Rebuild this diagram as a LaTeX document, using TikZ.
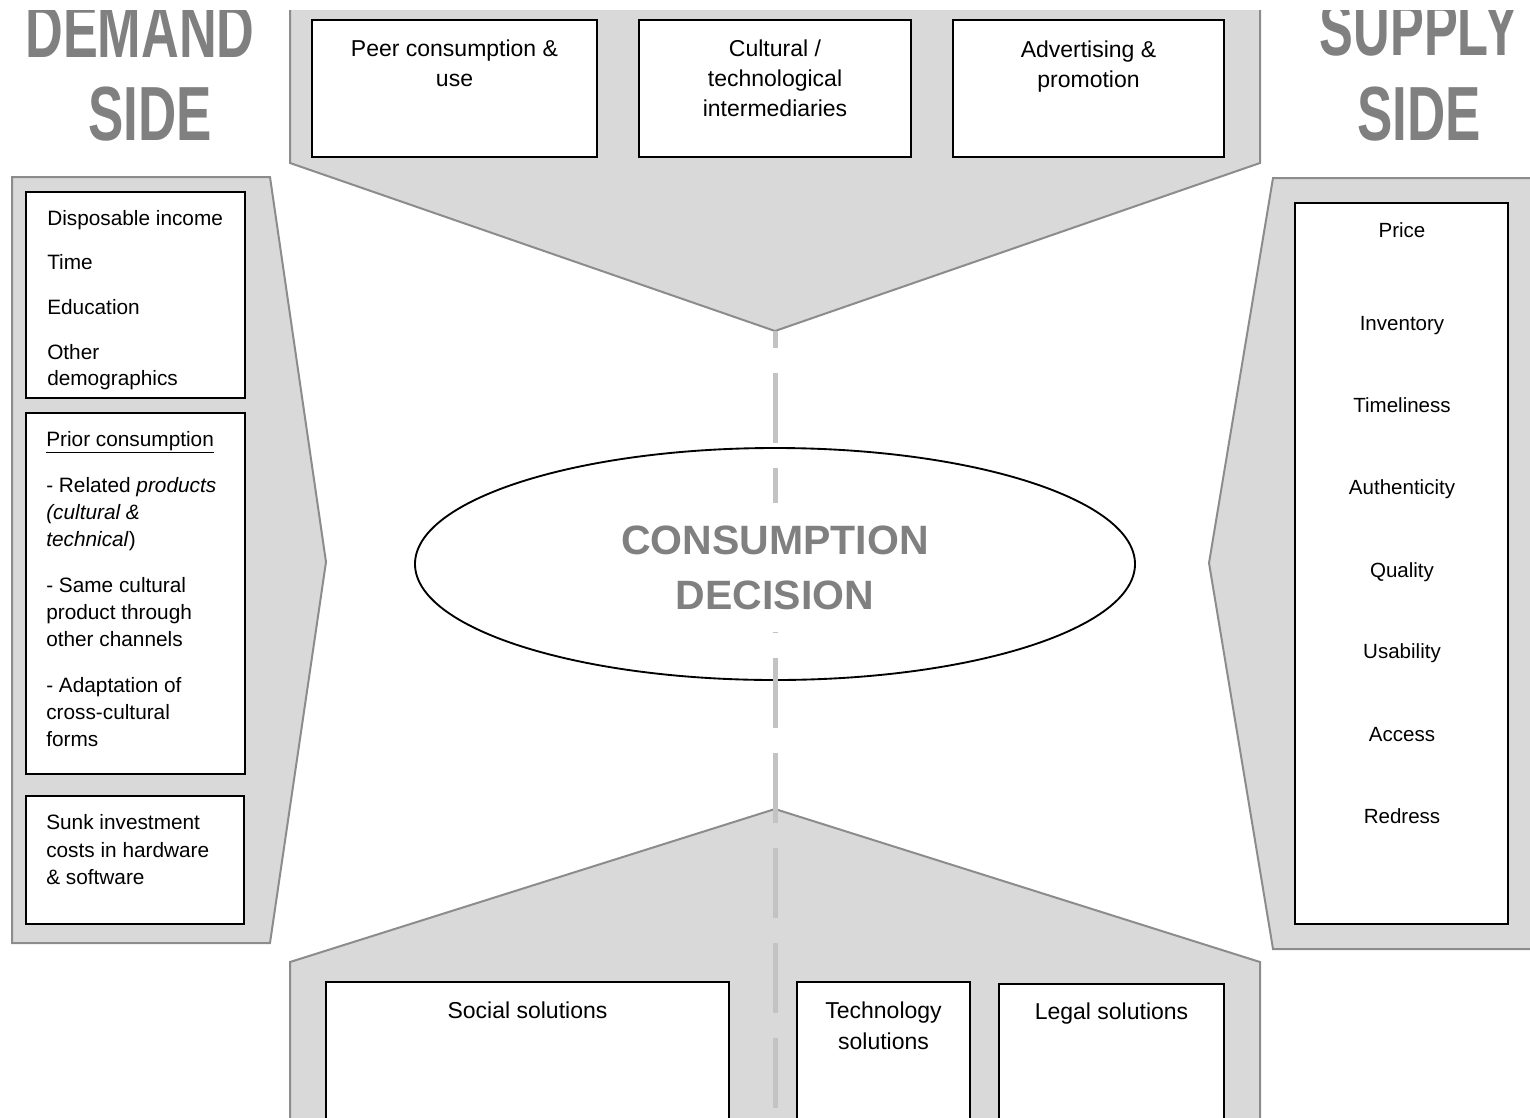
\documentclass[tikz,border=0pt]{standalone}
\usepackage{fontspec}
\setmainfont{Liberation Sans}
\usetikzlibrary{shapes.geometric}
\definecolor{panel}{HTML}{D9D9D9}
\definecolor{panelline}{HTML}{8C8C8C}
\definecolor{titlegray}{HTML}{808080}
\definecolor{dashgray}{HTML}{C3C3C3}
\begin{document}
\begin{tikzpicture}[x=0.75pt,y=-0.75pt,
  panelshape/.style={fill=panel,draw=panelline,line width=1.5pt,line join=miter},
  whitebox/.style={draw=black,fill=white,line width=1.4pt,inner sep=0pt,rectangle},
  toptext/.style={anchor=base,inner sep=0pt,font=\fontsize{17.25}{20}\selectfont},
  lefttext/.style={anchor=base west,inner sep=0pt,font=\fontsize{15.6}{19}\selectfont},
  righttext/.style={anchor=base,inner sep=0pt,font=\fontsize{15.4}{18}\selectfont},
  sidetitle/.style={anchor=base,inner sep=0pt,text=titlegray,font=\fontsize{57.6}{60}\selectfont\bfseries},
  centretext/.style={align=center,text=titlegray,fill=white,inner xsep=4pt,inner ysep=17pt,font=\fontsize{30.75}{41.25}\selectfont\bfseries},
  midline/.style={draw=dashgray,line width=3.75pt,dash pattern=on 52.5pt off 18.75pt,dash phase=39.75pt}]
\useasboundingbox (0,0) rectangle (1530,1117);
\begin{scope}
\clip (0,10) rectangle (1530,1117);
% panels
\filldraw[panelshape] (290,0) -- (1260,0) -- (1260,163) -- (775,331) -- (290,163) -- cycle;
\filldraw[panelshape] (12,177) -- (270,177) -- (326,562) -- (270,943) -- (12,943) -- cycle;
\filldraw[panelshape] (1273,178) -- (1545,178) -- (1545,949) -- (1273,949) -- (1209,563) -- cycle;
\filldraw[panelshape] (290,1135) -- (290,962) -- (775,809) -- (1260,962) -- (1260,1135) -- cycle;
\coordinate (topapex) at (775,331);
\coordinate (botend) at (775,1125);
% titles
\node[sidetitle] (demand) at (140,57) {\scalebox{0.68}[1]{DEMAND}};
\node[sidetitle] (dside) at (150,140) {\scalebox{0.69}[1]{SIDE}};
\node[sidetitle] (supply) at (1419,55) {\scalebox{0.66}[1]{SUPPLY}};
\node[sidetitle] (sside) at (1419,140) {\scalebox{0.69}[1]{SIDE}};
% top boxes
\node[whitebox,minimum width=213.75pt,minimum height=102.75pt] (peer) at (454.5,88.5) {};
\node[whitebox,minimum width=204pt,minimum height=102.75pt] (cult) at (775,88.5) {};
\node[whitebox,minimum width=203.25pt,minimum height=102.75pt] (adv) at (1088.5,88.5) {};
\node[toptext] (peer1) at (454.5,56) {Peer consumption \&};
\node[toptext] (peer2) at (454.5,86) {use};
\node[toptext] (cult1) at (775,56) {Cultural /};
\node[toptext] (cult2) at (775,86) {technological};
\node[toptext] (cult3) at (775,116) {intermediaries};
\node[toptext] (adv1) at (1088.5,57) {Advertising \&};
\node[toptext] (adv2) at (1088.5,87) {promotion};
% left boxes
\node[whitebox,minimum width=164.25pt,minimum height=154.5pt] (boxa) at (135.5,295) {};
\node[whitebox,minimum width=164.25pt,minimum height=270.75pt] (boxb) at (135.5,593.5) {};
\node[whitebox,minimum width=163.5pt,minimum height=96pt] (boxc) at (135,860) {};
\foreach \t/\yy [count=\i] in {Disposable income/225,Time/269,Education/314,Other/359,demographics/385}
  \node[lefttext] (la\i) at (47,\yy) {\t};
\node[lefttext] (lb1) at (46,446) {\underline{Prior consumption}};
\foreach \t/\yy [count=\i from 2] in {- Related \textit{products}/492,\textit{(cultural \&}/519,\textit{technical})/546,- Same cultural/592,product through/619,other channels/646,- Adaptation of/692,cross-cultural/719,forms/746}
  \node[lefttext] (lb\i) at (46,\yy) {\t};
\foreach \t/\yy [count=\i] in {Sunk investment/829,costs in hardware/857,\& software/884}
  \node[lefttext] (lc\i) at (46,\yy) {\t};
% right box
\node[whitebox,minimum width=159.75pt,minimum height=540.75pt] (boxr) at (1401.5,563.5) {};
\foreach \t/\yy [count=\i] in {Price/237,Inventory/330,Timeliness/412,Authenticity/494,Quality/577,Usability/658,Access/741,Redress/823}
  \node[righttext] (r\i) at (1402,\yy) {\t};
% bottom boxes
\node[whitebox,minimum width=302.25pt,minimum height=118.5pt] (social) at (527.5,1061) {};
\node[whitebox,minimum width=129.75pt,minimum height=118.5pt] (tech) at (883.5,1061) {};
\node[whitebox,minimum width=168.75pt,minimum height=117pt] (legal) at (1111.5,1062) {};
\node[toptext] (social1) at (527.5,1018) {Social solutions};
\node[toptext] (tech1) at (883.5,1018) {Technology};
\node[toptext] (tech2) at (883.5,1049) {solutions};
\node[toptext] (legal1) at (1111.5,1019) {Legal solutions};
% centre
\node[ellipse,draw=black,fill=white,line width=1.4pt,minimum width=540pt,minimum height=174pt,inner sep=0pt] (decision) at (775,564) {};
\draw[midline] (topapex) -- (botend);
\node[centretext] (decisiontext) at (775,567.5) {CONSUMPTION\\DECISION};
\end{scope}
\end{tikzpicture}
\end{document}
